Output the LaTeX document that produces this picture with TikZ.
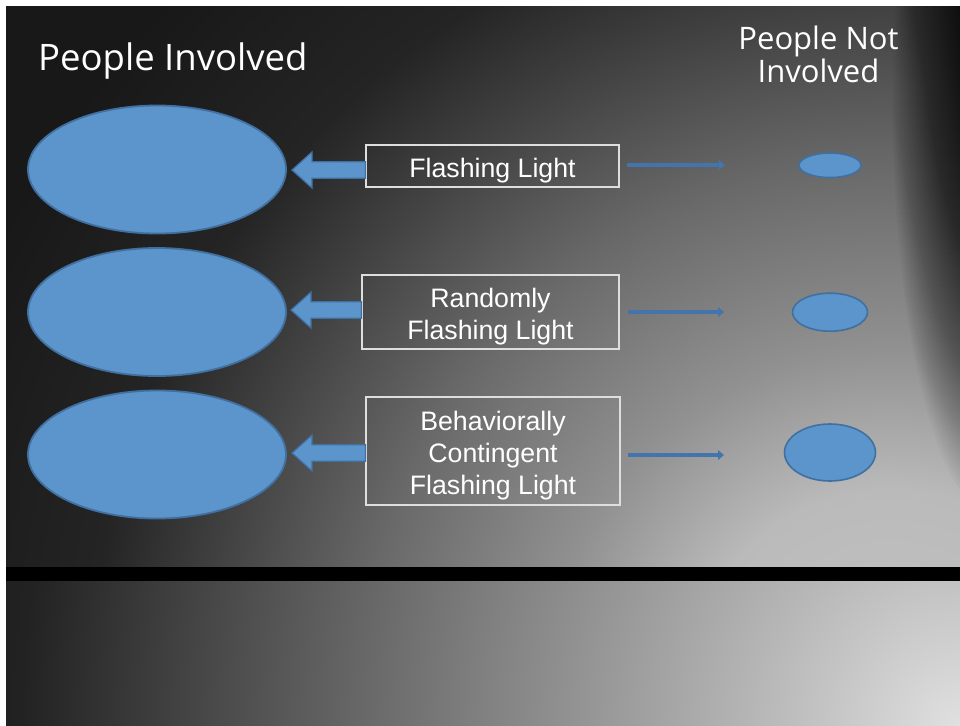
\documentclass[tikz,border=0pt]{standalone}
\usepackage{fontspec}
\setmainfont{Liberation Sans}
\newfontfamily\titlefont{Open Sans}
\usetikzlibrary{shapes.geometric,arrows.meta,calc}

\definecolor{ellfill}{RGB}{92,148,204}
\definecolor{elldraw}{RGB}{64,112,160}
\definecolor{thinblue}{RGB}{68,116,172}
\definecolor{boxline}{RGB}{222,222,222}

\definecolor{ta}{RGB}{196,196,196}
\definecolor{tb}{RGB}{186,186,186}
\definecolor{tc}{RGB}{145,145,145}
\definecolor{td}{RGB}{104,104,104}
\definecolor{te}{RGB}{66,66,66}
\definecolor{tf}{RGB}{36,36,36}
\definecolor{tg}{RGB}{24,24,24}

\definecolor{ba}{RGB}{224,224,224}
\definecolor{bb}{RGB}{196,196,196}
\definecolor{bc}{RGB}{128,128,128}
\definecolor{bd}{RGB}{34,34,34}
\definecolor{be}{RGB}{30,30,30}

\pgfdeclareradialshading{topbg}{\pgfpoint{0bp}{0bp}}{color(0bp)=(ta); color(5bp)=(tb); color(8.5bp)=(tc); color(13.25bp)=(td); color(17bp)=(te); color(20bp)=(tf); color(25bp)=(tg); color(50bp)=(tg)}
\pgfdeclareradialshading{botbg}{\pgfpoint{0bp}{0bp}}{color(0bp)=(ba); color(3.4bp)=(bb); color(12bp)=(bc); color(23.5bp)=(bd); color(25bp)=(be); color(50bp)=(be)}

\tikzset{
  bigell/.style={ellipse, draw=elldraw, fill=ellfill, line width=1.8pt, inner sep=0pt},
  txtbox/.style={draw=boxline, line width=1.1pt, inner sep=0pt},
  boxtext/.style={text=white, align=center, inner sep=0pt,
    font=\fontsize{26.7}{32}\selectfont},
  blockarrow/.style={fill=ellfill, draw=elldraw, line width=1.2pt, line join=miter},
  thinarr/.style={draw=thinblue, line width=3.4pt, -{Triangle[length=6pt,width=9.5pt]}},
  titletext/.style={text=white, inner sep=0pt, font=\titlefont\fontsize{36.5}{40}\selectfont},
}

\newcommand\blockarr[2]{%
  \filldraw[blockarrow] (#1) -- ++(20,-18) -- ++(0,9.7)
    -- ($(#2.west |- #1)+(0,-8.3)$) -- ($(#2.west |- #1)+(0,8.3)$)
    -- ($(#1)+(20,8.3)$) -- ++(0,9.7) -- cycle;}

\begin{document}
\begin{tikzpicture}[x=1pt,y=-1pt]
\useasboundingbox (0,0) rectangle (960,725);
% background
\begin{scope}
  \clip (6,6) rectangle (960,567);
  \fill[tg] (6,6) rectangle (960,567);
  \shade[shading=topbg] (890,690) circle (1000);
  \foreach \i in {1,...,64} {
    \fill[black, opacity=0.024] (995,105) ellipse [x radius={1.6*\i}, y radius={6.4*\i}];
  }
\end{scope}
\begin{scope}
  \clip (6,581) rectangle (960,725);
  \fill[be] (6,581) rectangle (960,725);
  \shade[shading=botbg] (960,725) circle (1000);
\end{scope}
\fill[black] (6,567) rectangle (960,581);
\fill[white] (0,0) rectangle (960,6);
\fill[white] (0,0) rectangle (6,725);

% titles
\node[titletext, anchor=base west] (title1) at (38,70.7) {People Involved};
\node[titletext, align=center, font=\titlefont\fontsize{31}{33}\selectfont] (title2) at (818.5,54) {People Not\\Involved};

% left ellipses
\node[bigell, minimum width=258pt, minimum height=128pt] (big1) at (157,169.5) {};
\node[bigell, minimum width=258pt, minimum height=128pt] (big2) at (157,312) {};
\node[bigell, minimum width=258pt, minimum height=128pt] (big3) at (157,454.5) {};

% right ellipses
\node[bigell, line width=1.6pt, minimum width=62pt, minimum height=24.5pt] (sm1) at (830,165.3) {};
\node[bigell, line width=1.6pt, minimum width=75pt, minimum height=38pt] (sm2) at (830,312.2) {};
\node[bigell, line width=1.6pt, minimum width=91pt, minimum height=57pt] (sm3) at (830,452.5) {};

% boxes
\node[txtbox, minimum width=253pt, minimum height=42pt] (box1) at (492.5,166) {};
\node[txtbox, minimum width=257pt, minimum height=74pt] (box2) at (490.5,312) {};
\node[txtbox, minimum width=254pt, minimum height=108pt] (box3) at (493,451) {};
\node[boxtext] (lab1) at ($(box1.center)+(0,4.5)$) {Flashing Light};
\node[boxtext] (lab2) at ($(box2.center)+(0,4.5)$) {Randomly\\Flashing Light};
\node[boxtext] (lab3) at ($(box3.center)+(0,4.5)$) {Behaviorally\\Contingent\\Flashing Light};

% block arrows
\coordinate (t1) at (292,170);
\coordinate (t2) at (291,310);
\coordinate (t3) at (292,453);
\blockarr{t1}{box1}
\blockarr{t2}{box2}
\blockarr{t3}{box3}

% thin arrows
\coordinate (e1) at (725,165);
\coordinate (e2) at (724,312);
\coordinate (e3) at (724,455);
\draw[thinarr] (box1.east |- e1) ++(7,0) -- (e1);
\draw[thinarr] (box2.east |- e2) ++(8,0) -- (e2);
\draw[thinarr] (box3.east |- e3) ++(7,0) -- (e3);
\end{tikzpicture}
\end{document}
